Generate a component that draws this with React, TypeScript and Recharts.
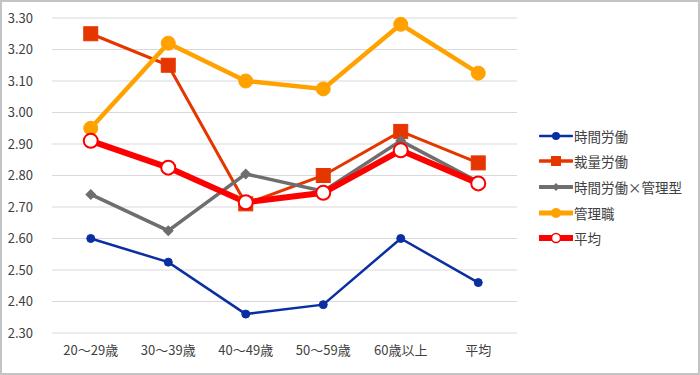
import React from "react";
import { LineChart, Line, XAxis, YAxis, CartesianGrid, Legend } from "recharts";

const categories = ["20～29歳", "30～39歳", "40～49歳", "50～59歳", "60歳以上", "平均"];
const hourly = [2.6, 2.525, 2.36, 2.39, 2.6, 2.46];
const discretionary = [3.25, 3.15, 2.71, 2.8, 2.94, 2.84];
const hourlyManaged = [2.74, 2.625, 2.805, 2.75, 2.91, 2.78];
const managers = [2.95, 3.22, 3.1, 3.075, 3.28, 3.125];
const average = [2.91, 2.825, 2.715, 2.745, 2.88, 2.775];
const yTicks = [2.3, 2.4, 2.5, 2.6, 2.7, 2.8, 2.9, 3.0, 3.1, 3.2, 3.3];

const seriesNames = ["時間労働", "裁量労働", "時間労働×管理型", "管理職", "平均"];

const data = categories.map((c, i) => ({
  cat: c,
  s0: hourly[i],
  s1: discretionary[i],
  s2: hourlyManaged[i],
  s3: managers[i],
  s4: average[i],
}));

const FONT = "'Noto Sans CJK JP', 'Noto Sans', sans-serif";
const C_BLUE = "#0a2fa0";
const C_ORANGERED = "#e63600";
const C_GRAY = "#6e6e6e";
const C_AMBER = "#ffa200";
const C_RED = "#ff0000";

const SquareDot = (props: any) => {
  const { cx, cy } = props;
  if (cx == null || cy == null) return null;
  return <rect x={cx - 7} y={cy - 7} width={14} height={14} fill={C_ORANGERED} stroke={C_ORANGERED} strokeWidth={1} />;
};

const DiamondDot = (props: any) => {
  const { cx, cy } = props;
  if (cx == null || cy == null) return null;
  const r = 5.5;
  return (
    <polygon
      points={`${cx},${cy - r} ${cx + r},${cy} ${cx},${cy + r} ${cx - r},${cy}`}
      fill={C_GRAY}
    />
  );
};

const legendItems = [
  { name: seriesNames[0], color: C_BLUE, w: 2.5, marker: "circle", r: 4, fill: C_BLUE },
  { name: seriesNames[1], color: C_ORANGERED, w: 3.5, marker: "square", r: 5, fill: C_ORANGERED },
  { name: seriesNames[2], color: C_GRAY, w: 4, marker: "diamond", r: 4, fill: C_GRAY },
  { name: seriesNames[3], color: C_AMBER, w: 5, marker: "circle", r: 5, fill: C_AMBER },
  { name: seriesNames[4], color: C_RED, w: 6, marker: "circle", r: 4.5, fill: "#ffffff" },
];

const renderLegend = () => (
  <div style={{ fontFamily: FONT, fontSize: 13.5, color: "#404040" }}>
    {legendItems.map((it) => (
      <div key={it.name} style={{ display: "flex", alignItems: "center", height: 25.6 }}>
        <svg width={34} height={14} style={{ display: "block" }}>
          <line x1={1} y1={7} x2={33} y2={7} stroke={it.color} strokeWidth={it.w} strokeLinecap="round" />
          {it.marker === "circle" && (
            <circle cx={17} cy={7} r={it.r} fill={it.fill} stroke={it.color} strokeWidth={it.fill === "#ffffff" ? 1.5 : 0} />
          )}
          {it.marker === "square" && <rect x={17 - it.r} y={7 - it.r} width={it.r * 2} height={it.r * 2} fill={it.fill} />}
          {it.marker === "diamond" && (
            <polygon points={`17,${7 - it.r} ${17 + it.r},7 17,${7 + it.r} ${17 - it.r},7`} fill={it.fill} />
          )}
        </svg>
        <span style={{ marginLeft: 1, lineHeight: "14px" }}>{it.name}</span>
      </div>
    ))}
  </div>
);

export default function App() {
  return (
    <div
      style={{
        position: "absolute",
        left: 0,
        top: 0,
        width: 700,
        height: 375,
        boxSizing: "border-box",
        border: "2px solid #c4c4c4",
        background: "#ffffff",
        overflow: "hidden",
      }}
    >
      <div style={{ position: "absolute", left: -2, top: -2 }}>
        <LineChart width={700} height={375} data={data} margin={{ top: 18, right: 22, bottom: 0, left: 0 }}>
          <CartesianGrid vertical={false} stroke="#d9d9d9" strokeWidth={1.2} />
          <XAxis
            dataKey="cat"
            scale="band"
            axisLine={false}
            tickLine={false}
            height={42}
            tickMargin={7}
            interval={0}
            tick={{ fontFamily: FONT, fontSize: 13, fill: "#404040" }}
          />
          <YAxis
            domain={[2.3, 3.3]}
            ticks={yTicks}
            width={52}
            axisLine={false}
            tickLine={false}
            tickMargin={13}
            interval={0}
            tickFormatter={(v: number) => v.toFixed(2)}
            tick={{ fontFamily: FONT, fontSize: 13, fill: "#404040" }}
          />
          <Legend
            content={renderLegend}
            layout="vertical"
            align="right"
            verticalAlign="top"
            wrapperStyle={{ position: "absolute", left: 539, top: 123, width: 161 }}
          />
          <Line
            dataKey="s0"
            name={seriesNames[0]}
            stroke={C_BLUE}
            strokeWidth={2.5}
            dot={{ r: 4, fill: C_BLUE, stroke: C_BLUE, strokeWidth: 1 }}
            isAnimationActive={false}
          />
          <Line
            dataKey="s1"
            name={seriesNames[1]}
            stroke={C_ORANGERED}
            strokeWidth={3}
            dot={<SquareDot />}
            isAnimationActive={false}
          />
          <Line
            dataKey="s2"
            name={seriesNames[2]}
            stroke={C_GRAY}
            strokeWidth={3.5}
            dot={<DiamondDot />}
            isAnimationActive={false}
          />
          <Line
            dataKey="s3"
            name={seriesNames[3]}
            stroke={C_AMBER}
            strokeWidth={4.5}
            dot={{ r: 7, fill: C_AMBER, stroke: C_AMBER, strokeWidth: 1 }}
            isAnimationActive={false}
          />
          <Line
            dataKey="s4"
            name={seriesNames[4]}
            stroke={C_RED}
            strokeWidth={6}
            dot={{ r: 7, fill: "#ffffff", stroke: C_RED, strokeWidth: 2 }}
            isAnimationActive={false}
          />
        </LineChart>
      </div>
    </div>
  );
}
